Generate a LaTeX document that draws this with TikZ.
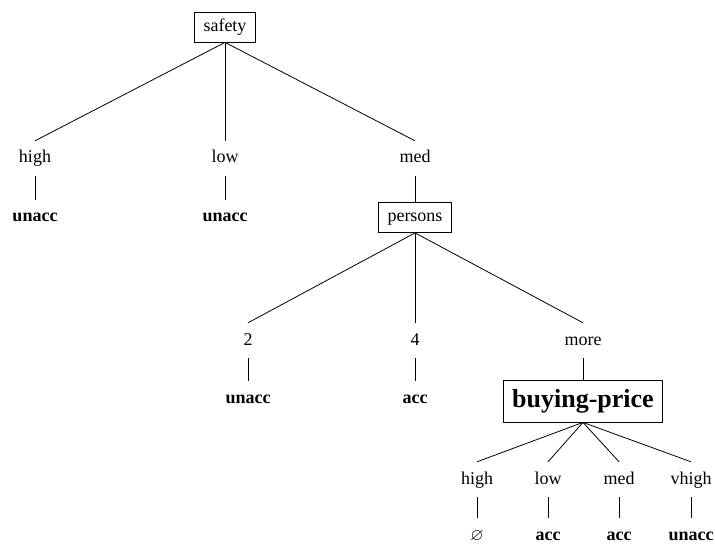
\documentclass[tikz,border=0pt]{standalone}
\usepackage{fontspec}
\usepackage{amssymb}
\setmainfont{Liberation Serif}
\begin{document}
\begin{tikzpicture}[x=1pt,y=-1pt,
  every node/.style={anchor=base},
  val/.style={font=\fontsize{18}{22}\selectfont, text height=13pt, text depth=4pt,
              inner ysep=9pt, inner xsep=2pt},
  leaf/.style={val, font=\fontsize{18}{22}\selectfont\bfseries},
  attr/.style={draw, line width=0.8pt, font=\fontsize{18}{22}\selectfont,
               text height=13pt, text depth=4pt, inner ysep=6.5pt, inner xsep=9pt},
  bigattr/.style={draw, line width=0.8pt, font=\fontsize{26}{30}\selectfont\bfseries,
                  text height=19pt, text depth=6pt, inner ysep=8.5pt, inner xsep=9pt},
  branch/.style={line width=0.8pt}]
\useasboundingbox (0,0) rectangle (715,548);

% root test
\node[attr] (safety) at (225,31.5) {safety};

% first level
\node[val] (s-high) at (35,163) {high};
\node[val] (s-low)  at (225,163) {low};
\node[val] (s-med)  at (415,163) {med};
\node[leaf] (s-high-r) at (35,222) {unacc};
\node[leaf] (s-low-r)  at (225,222) {unacc};
\node[attr] (persons)  at (415,222) {persons};

% second level
\node[val] (p-2)    at (248,345) {2};
\node[val] (p-4)    at (415,345) {4};
\node[val] (p-more) at (583,345) {more};
\node[leaf] (p-2-r) at (248,403) {unacc};
\node[leaf] (p-4-r) at (415,403) {acc};
\node[bigattr] (buying) at (583,407.5) {buying-price};

% third level
\node[val] (b-high)  at (477,484) {high};
\node[val] (b-low)   at (548,484) {low};
\node[val] (b-med)   at (619,484) {med};
\node[val] (b-vhigh) at (691,484) {vhigh};
\node[val, font=\fontsize{17}{20}\selectfont] (b-high-r) at (477,540) {$\varnothing$};
\node[leaf] (b-low-r)   at (548,540) {acc};
\node[leaf] (b-med-r)   at (619,540) {acc};
\node[leaf] (b-vhigh-r) at (691,540) {unacc};

% branches
\foreach \c in {s-high,s-low,s-med} \draw[branch] (safety.south) -- (\c.north);
\draw[branch] (s-high.south) -- (s-high-r.north);
\draw[branch] (s-low.south) -- (s-low-r.north);
\draw[branch] (s-med.south) -- (persons.north);
\foreach \c in {p-2,p-4,p-more} \draw[branch] (persons.south) -- (\c.north);
\draw[branch] (p-2.south) -- (p-2-r.north);
\draw[branch] (p-4.south) -- (p-4-r.north);
\draw[branch] (p-more.south) -- (buying.north);
\foreach \c in {b-high,b-low,b-med,b-vhigh} {
  \draw[branch] (buying.south) -- (\c.north);
  \draw[branch] (\c.south) -- (\c-r.north);
}
\end{tikzpicture}
\end{document}
